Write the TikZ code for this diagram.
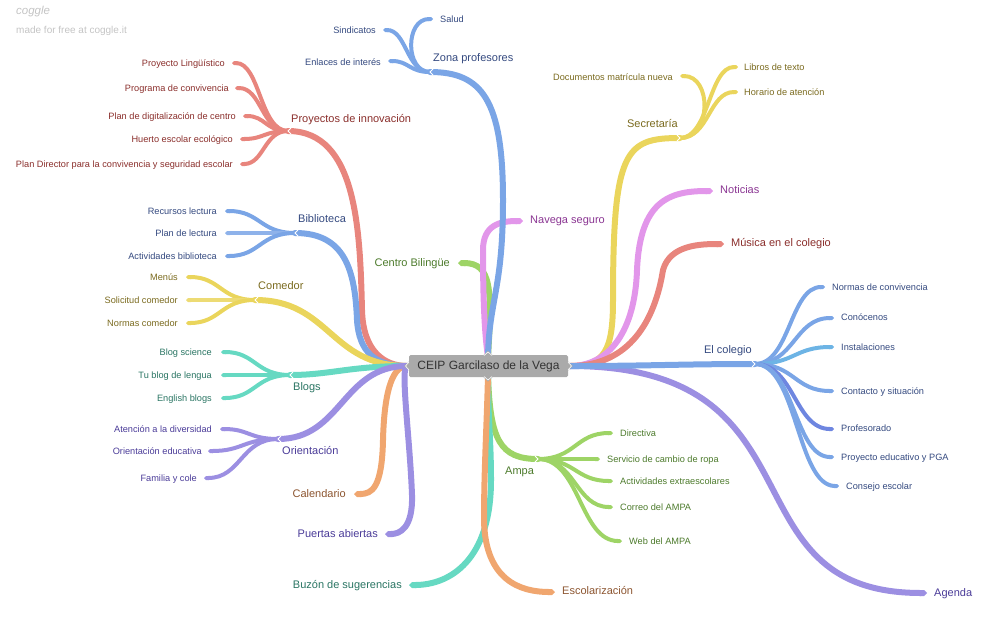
\documentclass[tikz,border=0pt]{standalone}
\usepackage{fontspec}
\setmainfont{Liberation Sans}
\usetikzlibrary{arrows.meta}
\definecolor{cBlue}{HTML}{7AA5E6}
\definecolor{cBlueL}{HTML}{6DB4E5}
\definecolor{cBlueD}{HTML}{6E86E0}
\definecolor{cRed}{HTML}{E8857D}
\definecolor{cYellow}{HTML}{EAD55C}
\definecolor{cGreen}{HTML}{9ED466}
\definecolor{cTeal}{HTML}{66D9C2}
\definecolor{cPurple}{HTML}{9C8FE2}
\definecolor{cPink}{HTML}{E296EA}
\definecolor{cOrange}{HTML}{F0A66F}
\definecolor{tBlue}{HTML}{34497F}
\definecolor{tRed}{HTML}{8A2E2B}
\definecolor{tYellow}{HTML}{7A6A1E}
\definecolor{tGreen}{HTML}{4C7A2B}
\definecolor{tTeal}{HTML}{2A7563}
\definecolor{tPurple}{HTML}{4A3B98}
\definecolor{tPink}{HTML}{8A3592}
\definecolor{tOrange}{HTML}{8C5530}
\definecolor{boxGray}{HTML}{AAAAAA}
\definecolor{logoGray}{HTML}{C4C4C4}
\tikzset{
  mainbr/.style={draw=#1, line width=6pt, line cap=round},
  subbr/.style={draw=#1, line width=4pt, line cap=round, -{Triangle Cap}},
  leafend/.style={-{Triangle Cap}},
  mlab/.style={font=\fontsize{11}{13}\selectfont, text=#1, inner sep=0pt, text height=7.9pt, text depth=0pt},
  llab/.style={font=\fontsize{9.2}{11}\selectfont, text=#1, inner sep=0pt, text height=6.6pt, text depth=0pt},
  rootbox/.style={fill=boxGray, text=black!80, minimum width=159pt, minimum height=22pt, inner sep=0pt, rounded corners=1.5pt, font=\fontsize{12}{14}\selectfont},
  notch/.style={draw=white, line width=0.8pt},
}
\newcommand\cgsub[3]{%
  \path (#2) -- (#3) coordinate[pos=0.5] (cgm);
  \draw[#1] (#2) .. controls (cgm |- #2) and (cgm |- #3) .. (#3);}
\begin{document}
\begin{tikzpicture}[x=1pt,y=-1pt]
\useasboundingbox (0,0) rectangle (990,622);
% anchors of the central node
\coordinate (cL) at (407,366);
\coordinate (cR) at (570,366);
\coordinate (cT) at (488,357);
\coordinate (cB) at (488,375);
% forks
\coordinate (fZP) at (430,72);
\coordinate (fPI) at (288,131);
\coordinate (fBib) at (295,233);
\coordinate (fCom) at (255,300);
\coordinate (fBlog) at (290,375);
\coordinate (fOri) at (278,439);
\coordinate (fAmpa) at (538,459);
\coordinate (fSec) at (680,138);
\coordinate (fCol) at (755,364);
% ends
\coordinate (eSal) at (433,19);
\coordinate (eSin) at (383,30);
\coordinate (eEnl) at (388,61);
\coordinate (ePL) at (232,63);
\coordinate (ePC) at (235,88);
\coordinate (ePD) at (243,116);
\coordinate (eHE) at (240,139);
\coordinate (ePDir) at (240,164);
\coordinate (eRL) at (225,211);
\coordinate (ePLe) at (225,233);
\coordinate (eAB) at (225,256);
\coordinate (eMen) at (186,277);
\coordinate (eSol) at (186,300);
\coordinate (eNor) at (186,323);
\coordinate (eBS) at (221,352);
\coordinate (eTB) at (221,375);
\coordinate (eEB) at (221,398);
\coordinate (eAD) at (220,429);
\coordinate (eOE) at (208,451);
\coordinate (eFC) at (204,478);
\coordinate (eCal) at (354,494);
\coordinate (ePA) at (385,534);
\coordinate (eBuz) at (409,585);
\coordinate (eEsc) at (555,592);
\coordinate (eDir) at (613,433);
\coordinate (eSer) at (600,459);
\coordinate (eAct) at (613,481);
\coordinate (eCor) at (613,507);
\coordinate (eWeb) at (622,541);
\coordinate (eCB) at (458,263);
\coordinate (eNS) at (523,221);
\coordinate (eDoc) at (680,76);
\coordinate (eLib) at (738,67);
\coordinate (eHor) at (738,92);
\coordinate (eNot) at (713,191);
\coordinate (eMus) at (724,244);
\coordinate (eNC) at (825,287);
\coordinate (eCon) at (834,318);
\coordinate (eIns) at (834,347);
\coordinate (eCS) at (834,391);
\coordinate (ePro) at (834,429);
\coordinate (ePE) at (834,457);
\coordinate (eCE) at (839,486);
\coordinate (eAg) at (927,593);

% ---- sub branches
\draw[subbr=cBlue] (fZP) .. controls (405,72) and (405,19) .. (eSal);
\cgsub{subbr=cBlue}{fZP}{eSin}
\cgsub{subbr=cBlue}{fZP}{eEnl}
\cgsub{subbr=cRed}{fPI}{ePL}
\cgsub{subbr=cRed}{fPI}{ePC}
\cgsub{subbr=cRed}{fPI}{ePD}
\cgsub{subbr=cRed}{fPI}{eHE}
\cgsub{subbr=cRed}{fPI}{ePDir}
\cgsub{subbr=cBlue}{fBib}{eRL}
\cgsub{subbr=cBlue!85!white}{fBib}{ePLe}
\cgsub{subbr=cBlue}{fBib}{eAB}
\cgsub{subbr=cYellow}{fCom}{eMen}
\cgsub{subbr=cYellow!85!white}{fCom}{eSol}
\cgsub{subbr=cYellow}{fCom}{eNor}
\cgsub{subbr=cTeal}{fBlog}{eBS}
\cgsub{subbr=cTeal}{fBlog}{eTB}
\cgsub{subbr=cTeal}{fBlog}{eEB}
\cgsub{subbr=cPurple}{fOri}{eAD}
\cgsub{subbr=cPurple}{fOri}{eOE}
\cgsub{subbr=cPurple}{fOri}{eFC}
\cgsub{subbr=cGreen}{fAmpa}{eDir}
\cgsub{subbr=cGreen}{fAmpa}{eSer}
\cgsub{subbr=cGreen}{fAmpa}{eAct}
\cgsub{subbr=cGreen}{fAmpa}{eCor}
\cgsub{subbr=cGreen}{fAmpa}{eWeb}
\draw[subbr=cYellow] (fSec) .. controls (712,138) and (712,76) .. (eDoc);
\cgsub{subbr=cYellow}{fSec}{eLib}
\cgsub{subbr=cYellow}{fSec}{eHor}
\cgsub{subbr=cBlue}{fCol}{eNC}
\cgsub{subbr=cBlue}{fCol}{eCon}
\cgsub{subbr=cBlueL}{fCol}{eIns}
\cgsub{subbr=cBlue}{fCol}{eCS}
\cgsub{subbr=cBlueD}{fCol}{ePro}
\cgsub{subbr=cBlue}{fCol}{ePE}
\cgsub{subbr=cBlue}{fCol}{eCE}

% ---- main branches
\draw[mainbr=cRed] (cL) .. controls (385,366) and (363,352) .. (362,310) .. controls (360,230) and (357,131) .. (fPI);
\draw[mainbr=cBlue] (cL) .. controls (375,366) and (359,352) .. (357,320) .. controls (355,270) and (345,233) .. (fBib);
\draw[mainbr=cYellow] (cL) .. controls (330,366) and (330,300) .. (fCom);
\draw[mainbr=cTeal] (cL) .. controls (350,366) and (330,375) .. (fBlog);
\draw[mainbr=cOrange, leafend] (cL) .. controls (390,366) and (384,400) .. (383,440) .. controls (382,488) and (372,494) .. (eCal);
\draw[mainbr=cPurple] (cL) .. controls (342,366) and (342,439) .. (fOri);
\draw[mainbr=cPurple, leafend] (cL) .. controls (400,366) and (410,440) .. (412,495) .. controls (413,528) and (400,534) .. (ePA);
\draw[mainbr=cGreen] (cB) .. controls (490,440) and (500,459) .. (fAmpa);
\draw[mainbr=cTeal, leafend] (cB) .. controls (488,420) and (491,440) .. (491,480) .. controls (491,560) and (450,585) .. (eBuz);
\draw[mainbr=cOrange, leafend] (cB) .. controls (487,420) and (484,470) .. (484,520) .. controls (485,580) and (520,592) .. (eEsc);
\draw[mainbr=cGreen, leafend] (cT) .. controls (492,290) and (492,263) .. (eCB);
\draw[mainbr=cPink, leafend] (cT) .. controls (484,330) and (483,290) .. (483,250) .. controls (483,225) and (500,221) .. (eNS);
\draw[mainbr=cBlue] (cT) .. controls (489,300) and (503,290) .. (503,200) .. controls (503,100) and (482,72) .. (fZP);
\draw[mainbr=cYellow] (cR) .. controls (605,366) and (613,350) .. (613,300) .. controls (613,150) and (625,138) .. (fSec);
\draw[mainbr=cPink, leafend] (cR) .. controls (610,366) and (635,330) .. (637,270) .. controls (640,200) and (670,191) .. (eNot);
\draw[mainbr=cRed, leafend] (cR) .. controls (630,366) and (655,320) .. (663,270) .. controls (670,245) and (700,244) .. (eMus);
\draw[mainbr=cPurple, leafend] (cR) .. controls (830,366) and (720,593) .. (eAg);
\draw[mainbr=cBlue] (cR) .. controls (650,366) and (680,364) .. (fCol);

% ---- fork notches
\foreach \f in {fZP,fPI,fBib,fCom,fBlog,fOri}
  \draw[notch] ([xshift=3pt,yshift=3pt]\f) -- (\f) -- ([xshift=3pt,yshift=-3pt]\f);
\foreach \f in {fAmpa,fSec,fCol}
  \draw[notch] ([xshift=-3pt,yshift=3pt]\f) -- (\f) -- ([xshift=-3pt,yshift=-3pt]\f);

% ---- central node
\node[rootbox] (root) at (488.5,366) {CEIP Garcilaso de la Vega};
\fill[boxGray] (409.5,361) -- (404,366) -- (409.5,371) -- cycle;
\fill[boxGray] (567.5,361) -- (573,366) -- (567.5,371) -- cycle;
\fill[boxGray] (483,355.5) -- (488,350.5) -- (493,355.5) -- cycle;
\fill[boxGray] (483,376.5) -- (488,381.5) -- (493,376.5) -- cycle;
\draw[notch, line width=0.6pt] (409,362) -- (405.5,366) -- (409,370);
\draw[notch, line width=0.6pt] (568,362) -- (571.5,366) -- (568,370);
\draw[notch, line width=0.6pt] (484,355.5) -- (488,352) -- (492,355.5);
\draw[notch, line width=0.6pt] (484,376.5) -- (488,380) -- (492,376.5);

% ---- watermark
\node[font=\fontsize{11.5}{13}\selectfont\itshape, text=logoGray, anchor=west, inner sep=0pt] (logo) at (16,12) {coggle};
\node[font=\fontsize{10}{12}\selectfont, text=logoGray, anchor=west, inner sep=0pt] (made) at (16,31) {made for free at coggle.it};

% ---- main labels
\node[mlab=tBlue, anchor=west] (lZP) at (433,58) {Zona profesores};
\node[mlab=tRed, anchor=west] (lPI) at (291,119) {Proyectos de innovación};
\node[mlab=tBlue, anchor=west] (lBib) at (298,219) {Biblioteca};
\node[mlab=tYellow, anchor=west] (lCom) at (258,286) {Comedor};
\node[mlab=tTeal, anchor=west] (lBlog) at (293,387) {Blogs};
\node[mlab=tPurple, anchor=west] (lOri) at (282,451) {Orientación};
\node[mlab=tOrange, anchor=east] (lCal) at (346,494) {Calendario};
\node[mlab=tPurple, anchor=east] (lPA) at (378,534) {Puertas abiertas};
\node[mlab=tTeal, anchor=east] (lBuz) at (402,585) {Buzón de sugerencias};
\node[mlab=tOrange, anchor=west] (lEsc) at (562,591) {Escolarización};
\node[mlab=tGreen, anchor=west] (lAmpa) at (505,471) {Ampa};
\node[mlab=tGreen, anchor=east] (lCB) at (450,263) {Centro Bilingüe};
\node[mlab=tPink, anchor=west] (lNS) at (530,220) {Navega seguro};
\node[mlab=tYellow, anchor=east] (lSec) at (678,124) {Secretaría};
\node[mlab=tPink, anchor=west] (lNot) at (720,190) {Noticias};
\node[mlab=tRed, anchor=west] (lMus) at (731,243) {Música en el colegio};
\node[mlab=tBlue, anchor=east] (lCol) at (752,350) {El colegio};
\node[mlab=tPurple, anchor=west] (lAg) at (934,593) {Agenda};

% ---- leaf labels
\node[llab=tBlue, anchor=west] (lSal) at (440,19) {Salud};
\node[llab=tBlue, anchor=east] (lSin) at (376,30) {Sindicatos};
\node[llab=tBlue, anchor=east] (lEnl) at (381,62) {Enlaces de interés};
\node[llab=tRed, anchor=east] (lPL) at (225,63) {Proyecto Lingüístico};
\node[llab=tRed, anchor=east] (lPC) at (229,88) {Programa de convivencia};
\node[llab=tRed, anchor=east] (lPD) at (236,116) {Plan de digitalización de centro};
\node[llab=tRed, anchor=east] (lHE) at (233,139) {Huerto escolar ecológico};
\node[llab=tRed, anchor=east] (lPDir) at (233,164) {Plan Director para la convivencia y seguridad escolar};
\node[llab=tBlue, anchor=east] (lRL) at (217,211) {Recursos lectura};
\node[llab=tBlue, anchor=east] (lPLe) at (217,233) {Plan de lectura};
\node[llab=tBlue, anchor=east] (lAB) at (217,256) {Actividades biblioteca};
\node[llab=tYellow, anchor=east] (lMen) at (178,277) {Menús};
\node[llab=tYellow, anchor=east] (lSol) at (178,300) {Solicitud comedor};
\node[llab=tYellow, anchor=east] (lNor) at (178,323) {Normas comedor};
\node[llab=tTeal, anchor=east] (lBS) at (212,352) {Blog science};
\node[llab=tTeal, anchor=east] (lTB) at (212,375) {Tu blog de lengua};
\node[llab=tTeal, anchor=east] (lEB) at (212,398) {English blogs};
\node[llab=tPurple, anchor=east] (lAD) at (212,429) {Atención a la diversidad};
\node[llab=tPurple, anchor=east] (lOE) at (202,451) {Orientación educativa};
\node[llab=tPurple, anchor=east] (lFC) at (197,478) {Familia y cole};
\node[llab=tGreen, anchor=west] (lDir) at (620,433) {Directiva};
\node[llab=tGreen, anchor=west] (lSer) at (607,459) {Servicio de cambio de ropa};
\node[llab=tGreen, anchor=west] (lAct) at (620,481) {Actividades extraescolares};
\node[llab=tGreen, anchor=west] (lCor) at (620,507) {Correo del AMPA};
\node[llab=tGreen, anchor=west] (lWeb) at (629,541) {Web del AMPA};
\node[llab=tYellow, anchor=east] (lDoc) at (673,77) {Documentos matrícula nueva};
\node[llab=tYellow, anchor=west] (lLib) at (744,67) {Libros de texto};
\node[llab=tYellow, anchor=west] (lHor) at (744,92) {Horario de atención};
\node[llab=tBlue, anchor=west] (lNC) at (832,287) {Normas de convivencia};
\node[llab=tBlue, anchor=west] (lCon) at (841,317) {Conócenos};
\node[llab=tBlue, anchor=west] (lIns) at (841,347) {Instalaciones};
\node[llab=tBlue, anchor=west] (lCS) at (841,391) {Contacto y situación};
\node[llab=tBlue, anchor=west] (lPro) at (841,428) {Profesorado};
\node[llab=tBlue, anchor=west] (lPE) at (841,457) {Proyecto educativo y PGA};
\node[llab=tBlue, anchor=west] (lCE) at (846,486) {Consejo escolar};
\end{tikzpicture}
\end{document}
